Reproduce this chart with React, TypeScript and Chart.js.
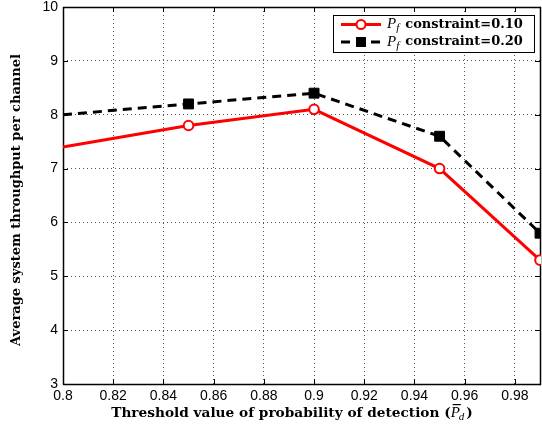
import React, { useEffect, useRef } from "react";
import { Chart, registerables } from "chart.js";

Chart.register(...registerables);

const xValues = [0.8, 0.85, 0.9, 0.95, 0.99];
const pf010 = [7.4, 7.8, 8.1, 7.0, 5.3];
const pf020 = [8.0, 8.2, 8.4, 7.6, 5.8];
const seriesNames = ["constraint=0.10", "constraint=0.20"];
const xTitleText = "Threshold value of probability of detection (";
const yTitleText = "Average system throughput per channel";
const X_MIN = 0.8;
const X_MAX = 0.99;

const SERIF = "'DejaVu Serif', 'Liberation Serif', serif";
const SANS = "'Liberation Sans', Arial, sans-serif";

const framePlugin = {
  id: "frame",
  beforeDatasetsDraw(chart: any) {
    const { ctx, chartArea: a, scales } = chart;
    ctx.save();
    ctx.strokeStyle = "#000";
    ctx.lineWidth = 1;
    ctx.setLineDash([]);
    ctx.beginPath();
    scales.x.ticks.forEach((t: any) => {
      const px = Math.round(scales.x.getPixelForValue(t.value)) + 0.5;
      ctx.moveTo(px, a.bottom);
      ctx.lineTo(px, a.bottom - 5);
      ctx.moveTo(px, a.top);
      ctx.lineTo(px, a.top + 5);
    });
    scales.y.ticks.forEach((t: any) => {
      const py = Math.round(scales.y.getPixelForValue(t.value)) + 0.5;
      ctx.moveTo(a.left, py);
      ctx.lineTo(a.left + 5, py);
      ctx.moveTo(a.right, py);
      ctx.lineTo(a.right - 5, py);
    });
    ctx.stroke();
    ctx.lineWidth = 1.5;
    ctx.strokeRect(Math.round(a.left) + 0.5, Math.round(a.top) + 0.5, Math.round(a.right - a.left), Math.round(a.bottom - a.top));
    ctx.restore();
  },
  afterDraw(chart: any) {
    const { ctx } = chart;
    ctx.save();
    ctx.fillStyle = "#000";
    ctx.textBaseline = "middle";

    const xTitleF = `bold 13.7px ${SERIF}`;
    const boldF = `bold 13px ${SERIF}`;
    const itF = `italic 15px 'Liberation Serif', serif`;
    const subF = `italic 11px 'Liberation Serif', serif`;

    // X title
    ctx.font = xTitleF;
    const w1 = ctx.measureText(xTitleText).width;
    const w3 = ctx.measureText(")").width;
    ctx.font = itF;
    const wP = ctx.measureText("P").width;
    ctx.font = subF;
    const wd = ctx.measureText("d").width;
    const total = w1 + wP + 1 + wd + w3;
    let x0 = 292 - total / 2;
    const ty = 413;
    ctx.textAlign = "left";
    ctx.font = xTitleF;
    ctx.fillText(xTitleText, x0, ty);
    x0 += w1;
    ctx.font = itF;
    ctx.fillText("P", x0, ty);
    ctx.fillRect(x0 + 2, ty - 9, wP - 1, 1.2);
    x0 += wP + 1;
    ctx.font = subF;
    ctx.fillText("d", x0 - 2, ty + 4);
    x0 += wd;
    ctx.font = xTitleF;
    ctx.fillText(")", x0, ty);

    // Y title
    ctx.save();
    ctx.translate(17, 200);
    ctx.rotate(-Math.PI / 2);
    ctx.textAlign = "center";
    ctx.font = boldF;
    ctx.fillText(yTitleText, 0, 0);
    ctx.restore();

    // Legend
    const lx = 333, ly = 15, lw = 201, lh = 37;
    ctx.fillStyle = "#fff";
    ctx.fillRect(lx, ly, lw, lh);
    ctx.strokeStyle = "#000";
    ctx.lineWidth = 1;
    ctx.setLineDash([]);
    ctx.strokeRect(lx + 0.5, ly + 0.5, lw, lh);

    const rows = [ly + 9.5, ly + 27];
    ctx.strokeStyle = "#ff0000";
    ctx.lineWidth = 3;
    ctx.beginPath();
    ctx.moveTo(341, rows[0]);
    ctx.lineTo(381, rows[0]);
    ctx.stroke();
    ctx.lineWidth = 2;
    ctx.fillStyle = "#fff";
    ctx.beginPath();
    ctx.arc(361, rows[0], 4.5, 0, Math.PI * 2);
    ctx.fill();
    ctx.stroke();
    ctx.strokeStyle = "#000";
    ctx.lineWidth = 3;
    ctx.setLineDash([9, 6]);
    ctx.beginPath();
    ctx.moveTo(341, rows[1]);
    ctx.lineTo(381, rows[1]);
    ctx.stroke();
    ctx.setLineDash([]);
    ctx.fillStyle = "#000";
    ctx.fillRect(356, rows[1] - 5, 10, 10);

    ctx.fillStyle = "#000";
    ctx.textAlign = "left";
    rows.forEach((ry, i) => {
      let tx = 387;
      ctx.font = itF;
      ctx.fillText("P", tx, ry);
      tx += ctx.measureText("P").width;
      ctx.font = subF;
      ctx.fillText("f", tx, ry + 4);
      tx += ctx.measureText("f").width + 6;
      ctx.font = boldF;
      ctx.fillText(seriesNames[i], tx, ry);
    });
    ctx.restore();
  },
};

export default function App() {
  const ref = useRef<HTMLCanvasElement>(null);
  useEffect(() => {
    document.body.style.margin = "0";
    const radiusFn = (r: number) => (c: any) => (c.parsed && c.parsed.x <= X_MIN ? 0 : r);
    const chart = new Chart(ref.current as HTMLCanvasElement, {
      type: "line",
      data: {
        datasets: [
          {
            label: "Pf " + seriesNames[0],
            data: xValues.map((x, i) => ({ x, y: pf010[i] })),
            borderColor: "#ff0000",
            borderWidth: 3,
            pointStyle: "circle",
            pointRadius: radiusFn(4.8) as any,
            pointBorderWidth: 2,
            pointBackgroundColor: "#fff",
            pointBorderColor: "#ff0000",
            clip: 1 as any,
          },
          {
            label: "Pf " + seriesNames[1],
            data: xValues.map((x, i) => ({ x, y: pf020[i] })),
            borderColor: "#000",
            borderWidth: 3,
            borderDash: [9, 6],
            pointStyle: "rect",
            pointRadius: radiusFn(7) as any,
            pointBorderWidth: 1,
            pointBackgroundColor: "#000",
            pointBorderColor: "#000",
            clip: 1 as any,
          },
        ],
      },
      options: {
        animation: false,
        responsive: false,
        maintainAspectRatio: false,
        layout: { autoPadding: false, padding: { top: 7, right: 2, left: 0, bottom: 0 } } as any,
        plugins: { legend: { display: false }, tooltip: { enabled: false } },
        scales: {
          x: {
            type: "linear",
            min: X_MIN,
            max: X_MAX,
            afterFit: (s: any) => {
              s.height = 41;
              s.paddingLeft = 0;
              s.paddingRight = 0;
            },
            ticks: {
              stepSize: 0.02,
              includeBounds: false,
              maxRotation: 0,
              autoSkip: false,
              padding: 4,
              color: "#000",
              font: { family: SANS, size: 14 },
              callback: (v: any) => String(Number(Number(v).toFixed(2))),
            },
            grid: { color: "#555", lineWidth: 1, drawTicks: false },
            border: { display: false, dash: [1, 3] },
          },
          y: {
            min: 3,
            max: 10,
            afterFit: (s: any) => {
              s.width = 63;
              s.paddingTop = 0;
              s.paddingBottom = 0;
            },
            ticks: {
              stepSize: 1,
              padding: 5,
              color: "#000",
              font: { family: SANS, size: 14 },
            },
            grid: { color: "#555", lineWidth: 1, drawTicks: false },
            border: { display: false, dash: [1, 3] },
          },
        },
      },
      plugins: [framePlugin],
    });
    return () => chart.destroy();
  }, []);
  return (
    <div style={{ width: 542, height: 425 }}>
      <canvas ref={ref} width={542} height={425} style={{ display: "block" }} />
    </div>
  );
}
